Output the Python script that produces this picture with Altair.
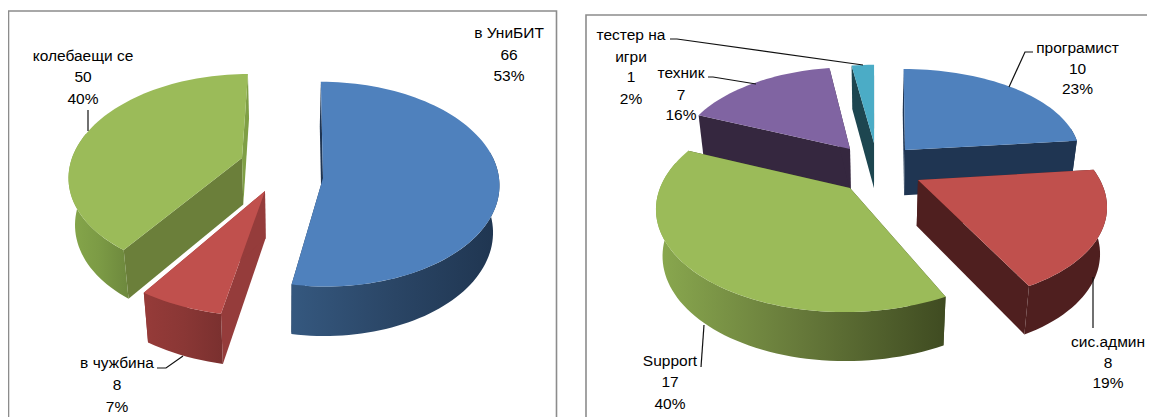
import math
import altair as alt
import pandas as pd

# ---- values
left_names = ["в УниБИТ", "в чужбина", "колебаещи се"]
left_values = [66, 8, 50]
left_pcts = ["53%", "7%", "40%"]
right_names = ["програмист", "сис.админ", "Support", "техник", "тестер на игри"]
right_values = [10, 8, 17, 7, 1]
right_pcts = ["23%", "19%", "40%", "16%", "2%"]

# ---- look of the 3-D slices: apex x/y, radii, perspective, colours
BLUE, RED, GREEN, PURPLE, TEAL = "#4f81bd", "#c0504d", "#9bbb59", "#8064a2", "#4bacc6"
left_style = {
    0: dict(ax=323, ay=178, r=176, ry=102, p=.06, top=BLUE, f0="#1f3552", f1="#1f3552", rim=("#35587f", "#2a4565", "#1f3550"), da1=-1.2),
    1: dict(ax=265, ay=191, r=200, ry=118, p=.06, top=RED, f0="#953c3b", f1="#953c3b", rim=("#963b39", "#8a3735", "#7a302f")),
    2: dict(ax=242, ay=158, r=170, ry=97.4, p=.16, top=GREEN, f0="#6b7f3a", f1="#7f9f45", rim=("#86a74b", "#7c9b45", "#6d883d")),
}
right_style = {
    0: dict(ax=905, ay=150, r=174, ry=85, p=.05, top=BLUE, f0="#1f3552", f1="#1f3552", rim=("#1f3552", "#1f3552", "#1f3552")),
    1: dict(ax=918, ay=180, r=182, ry=95, p=.22, top=RED, f0="#4f1f1f", f1="#4f1f1f", rim=("#4f1f1f", "#4f1f1f", "#4f1f1f"), da1=3),
    2: dict(ax=850, ay=188, r=190, ry=101.7, p=.18, top=GREEN, f0="#3f4b21", f1="#3f4b21", rim=("#8aa94f", "#66793a", "#3f4b21"), da0=3),
    3: dict(ax=850, ay=149, r=172, ry=90, p=.1, top=PURPLE, f0="#35273f", f1="#35273f", rim=("#35273f", "#35273f", "#35273f")),
    4: dict(ax=874, ay=143, r=170, ry=86, p=.1, top=TEAL, f0="#1d4650", f1="#1d4650", rim=("#1d4650", "#1d4650", "#1d4650")),
}
XS = alt.Scale(domain=[8, 1147], range=[0, 1139], nice=False, zero=False)
YS = alt.Scale(domain=[8, 417], range=[0, 409], nice=False, zero=False)


def project(st, vx, deg):
    t = math.radians(deg)
    s = 1 / (1 + st["p"] * math.cos(t))
    x = vx + s * (st["ax"] + st["r"] * math.sin(t) - vx)
    y = st["ay"] - s * st["ry"] * math.cos(t)
    return x, y


def drop(pt, vx, depth):
    x, y = pt
    return vx + (x - vx) * 0.97, y + depth * (1 + 0.0005 * (y - 180))


def poly(points, fill):
    pts = list(points) + [points[0]]
    df = pd.DataFrame({"x": [p[0] for p in pts], "y": [p[1] for p in pts], "i": range(len(pts))})
    return (
        alt.Chart(df)
        .mark_line(fill=fill, strokeWidth=0, clip=True)
        .encode(x=alt.X("x:Q", scale=XS, axis=None), y=alt.Y("y:Q", scale=YS, axis=None), order="i:Q")
    )


def grad(stops):
    return alt.LinearGradient(
        gradient="linear", x1=0, x2=1, y1=0, y2=0,
        stops=[alt.GradientStop(color=c, offset=i / (len(stops) - 1)) for i, c in enumerate(stops)],
    )


def arc(st, vx, a, b):
    n = max(2, int(abs(b - a) / 2))
    return [project(st, vx, a + (b - a) * k / n) for k in range(n + 1)]


def pie(values, styles, vx, depth, order):
    total = sum(values)
    bounds, acc = [], 0
    for v in values:
        bounds.append((acc * 360 / total, (acc + v) * 360 / total))
        acc += v
    layers = []
    for idx in order:
        st = styles[idx]
        a0 = bounds[idx][0] + st.get("da0", 0)
        a1 = bounds[idx][1] + st.get("da1", 0)
        apex = (st["ax"], st["ay"])
        apex_b = drop(apex, vx, depth)
        for ang, col in ((a0, st["f0"]), (a1, st["f1"])):
            e = project(st, vx, ang)
            layers.append(poly([apex, e, drop(e, vx, depth), apex_b], col))
        lo, hi = max(a0, 75), min(a1, 285)
        if hi > lo:
            top_arc = arc(st, vx, lo, hi)
            bot_arc = [drop(p, vx, depth) for p in reversed(top_arc)]
            layers.append(poly(top_arc + bot_arc, grad(st["rim"])))
        layers.append(poly([apex] + arc(st, vx, a0, a1), st["top"]))
    return layers


layers = []
layers += pie(left_values, left_style, 285, 47, [0, 2, 1])
layers += pie(right_values, right_style, 875, 46, [4, 3, 0, 2, 1])

# ---- chart frames
frame_paths = [
    [(8.5, 417), (8.5, 11), (556.5, 11), (556.5, 417)],
    [(586, 417), (586, 15), (1147, 15)],
]
# ---- leader lines
leader_paths = [
    [(88, 110), (88, 131)],
    [(157, 368), (166, 368), (183, 356)],
    [(670, 39), (677, 39), (863, 65)],
    [(708, 77), (713, 77), (756, 84)],
    [(701, 367), (704, 325)],
    [(1033, 52), (1025, 52), (1009, 87)],
    [(1093, 328), (1093, 277)],
]


def path(points, color, width):
    df = pd.DataFrame({"x": [p[0] for p in points], "y": [p[1] for p in points], "i": range(len(points))})
    return (
        alt.Chart(df)
        .mark_line(color=color, strokeWidth=width, clip=True)
        .encode(x=alt.X("x:Q", scale=XS, axis=None), y=alt.Y("y:Q", scale=YS, axis=None), order="i:Q")
    )


for p in frame_paths:
    layers.append(path(p, "#8c8c8c", 1.6))
for p in leader_paths:
    layers.append(path(p, "#111111", 1.2))

# ---- data labels: name / value / percent
label_rows = [
    (509, [33, 55, 76], [left_names[0], str(left_values[0]), left_pcts[0]]),
    (117, [363, 385, 407], [left_names[1], str(left_values[1]), left_pcts[1]]),
    (83, [56, 77, 99], [left_names[2], str(left_values[2]), left_pcts[2]]),
    (1077.5, [48, 69, 89], [right_names[0], str(right_values[0]), right_pcts[0]]),
    (1108, [342, 363, 383], [right_names[1], str(right_values[1]), right_pcts[1]]),
    (670, [361, 382, 404], [right_names[2], str(right_values[2]), right_pcts[2]]),
    (681, [73, 95, 115], [right_names[3], str(right_values[3]), right_pcts[3]]),
    (631, [35, 57, 77, 99], ["тестер на", "игри", str(right_values[4]), right_pcts[4]]),
]
rows = []
for x, ys, texts in label_rows:
    for y, t in zip(ys, texts):
        rows.append({"x": x, "y": y, "t": t})
layers.append(
    alt.Chart(pd.DataFrame(rows))
    .mark_text(font="Liberation Sans", fontSize=15.5, color="#000000", align="center", baseline="middle")
    .encode(x=alt.X("x:Q", scale=XS, axis=None), y=alt.Y("y:Q", scale=YS, axis=None), text="t:N")
)

chart = (
    alt.layer(*layers)
    .properties(width=1139, height=409, padding=0, background="white")
    .configure_view(stroke=None)
)
chart.save("out.html", embed_options={"renderer": "svg", "actions": False})
